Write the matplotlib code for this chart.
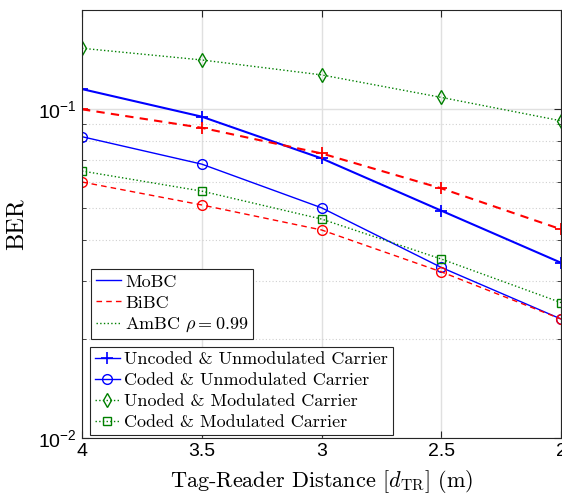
import numpy as np
import matplotlib
matplotlib.use("Agg")
import matplotlib.pyplot as plt
from matplotlib.lines import Line2D
from matplotlib.ticker import LogLocator, NullFormatter

# ── data ─────────────────────────────────────────────────────────────────────
distance = [4, 3.5, 3, 2.5, 2]

mobc_uncoded = [0.115, 0.0948, 0.0708, 0.0491, 0.0341]
mobc_coded   = [0.0824, 0.068, 0.0501, 0.033, 0.023]
bibc_uncoded = [0.0998, 0.0877, 0.0733, 0.0574, 0.0431]
bibc_coded   = [0.060, 0.0511, 0.0429, 0.032, 0.023]
ambc_uncoded = [0.153, 0.141, 0.127, 0.1085, 0.0921]
ambc_coded   = [0.0648, 0.0563, 0.0463, 0.035, 0.0258]

BLUE = (0, 0, 1)
RED = (1, 0, 0)
GREEN = (0, 0.5, 0)
SERIF = "cmr10"

plt.rcParams.update({
    "font.family": ["Liberation Sans", "DejaVu Sans"],
    "mathtext.fontset": "cm",
    "xtick.direction": "in",
    "ytick.direction": "in",
    "xtick.top": True,
    "ytick.right": True,
    "axes.linewidth": 0.8,
    "axes.edgecolor": "#262626",
})

fig = plt.figure(figsize=(5.62, 4.95), dpi=100)
ax = fig.add_axes([82 / 562, 1 - 438 / 495, 479 / 562, 428 / 495])

ax.plot(distance, mobc_uncoded, color=BLUE, ls="-", lw=1.5, marker="+", ms=9, mew=1.3)
ax.plot(distance, mobc_coded, color=BLUE, ls="-", lw=1.0, marker="o", ms=7, mfc="none", mew=1.0)
ax.plot(distance, bibc_uncoded, color=RED, ls=(0, (4, 3)), lw=1.5, marker="+", ms=9, mew=1.3)
ax.plot(distance, bibc_coded, color=RED, ls=(0, (4, 3)), lw=1.0, marker="o", ms=7, mfc="none", mew=1.0)
ax.plot(distance, ambc_uncoded, color=GREEN, ls=":", lw=1.0, marker="d", ms=7, mfc="none", mew=1.0)
ax.plot(distance, ambc_coded, color=GREEN, ls=":", lw=1.0, marker="s", ms=6, mfc="none", mew=1.0)

ax.set_yscale("log")
ax.set_xlim(4, 2)
ax.set_ylim(0.01, 0.2)
ax.set_xticks([4, 3.5, 3, 2.5, 2])
ax.set_xticklabels(["4", "3.5", "3", "2.5", "2"])
ax.yaxis.set_minor_locator(LogLocator(base=10, subs=np.arange(2, 10)))
ax.yaxis.set_minor_formatter(NullFormatter())
ax.tick_params(axis="both", which="major", labelsize=14, length=5, color="#262626")
ax.tick_params(axis="y", which="minor", length=3, color="#262626")

ax.grid(True, which="major", color="#e0e0e0", lw=1.0, ls="-")
ax.grid(True, which="minor", axis="y", color="#d0d0d0", lw=0.8, ls=(0, (1, 2)))
ax.set_axisbelow(True)

ax.set_xlabel(r"Tag-Reader Distance [$d_{\mathrm{TR}}$] (m)", fontfamily=SERIF, fontsize=16, labelpad=6)
ax.set_ylabel("BER", fontfamily=SERIF, fontsize=17.5, labelpad=8)

leg_kw = dict(loc="lower left", fancybox=False, framealpha=1, edgecolor="#262626",
              prop={"family": SERIF, "size": 13}, handlelength=1.4, handletextpad=0.25,
              borderpad=0.25, labelspacing=0.3, borderaxespad=0)

h1 = [Line2D([], [], color=BLUE, ls="-", lw=1.0),
      Line2D([], [], color=RED, ls=(0, (4, 3)), lw=1.0),
      Line2D([], [], color=GREEN, ls=":", lw=1.0)]
leg1 = ax.legend(h1, ["MoBC", "BiBC", r"AmBC $\rho = 0.99$"],
                 bbox_to_anchor=(9 / 479, 99 / 428), **leg_kw)
leg1.get_frame().set_linewidth(0.8)
ax.add_artist(leg1)

h2 = [Line2D([], [], color=BLUE, ls="-", lw=1.0, marker="+", ms=9, mew=1.2),
      Line2D([], [], color=BLUE, ls="-", lw=1.0, marker="o", ms=7, mfc="none"),
      Line2D([], [], color=GREEN, ls=":", lw=1.0, marker="d", ms=7, mfc="none"),
      Line2D([], [], color=GREEN, ls=":", lw=1.0, marker="s", ms=6, mfc="none")]
leg2 = ax.legend(h2, ["Uncoded & Unmodulated Carrier", "Coded & Unmodulated Carrier",
                      "Unoded & Modulated Carrier", "Coded & Modulated Carrier"],
                 bbox_to_anchor=(8 / 479, 3 / 428), **leg_kw)
leg2.get_frame().set_linewidth(0.8)

fig.savefig("out.png", dpi=100)
